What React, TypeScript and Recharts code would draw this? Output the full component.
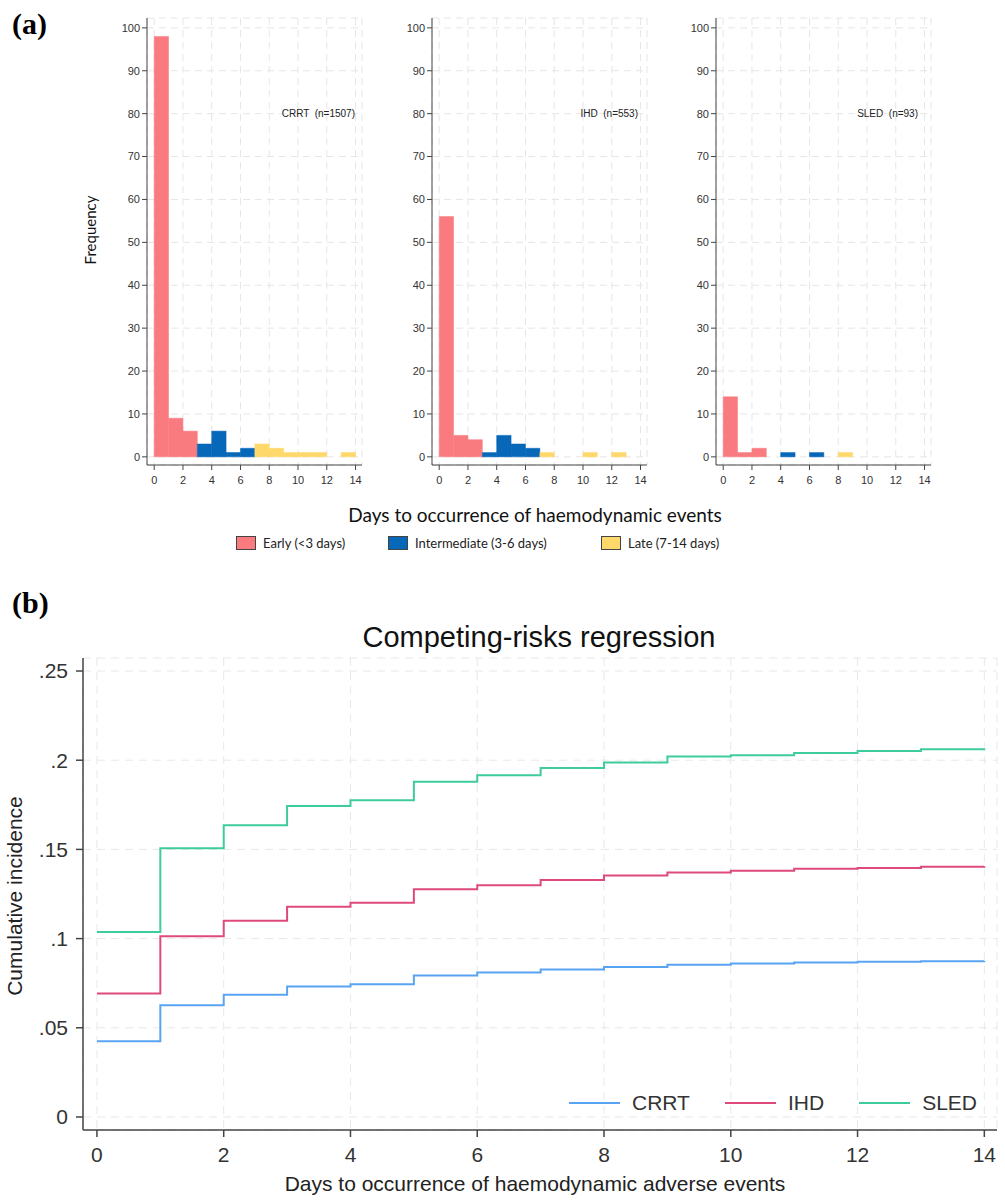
import {
  Bar,
  BarChart,
  CartesianGrid,
  Cell,
  Legend,
  Line,
  LineChart,
  XAxis,
  YAxis,
} from "recharts";

// ---- panel (a): histograms of days to event, one per modality ----
const BIN_START = [0, 1, 2, 3, 4, 5, 6, 7, 8, 9, 10, 11, 12, 13];
const BIN_GROUP = [
  "early", "early", "early",
  "intermediate", "intermediate", "intermediate", "intermediate",
  "late", "late", "late", "late", "late", "late", "late",
];
const CRRT_FREQ = [98, 9, 6, 3, 6, 1, 2, 3, 2, 1, 1, 1, 0, 1];
const IHD_FREQ = [56, 5, 4, 1, 5, 3, 2, 1, 0, 0, 1, 0, 1, 0];
const SLED_FREQ = [14, 1, 2, 0, 1, 0, 1, 0, 1, 0, 0, 0, 0, 0];
const HIST_NAMES = ["CRRT", "IHD", "SLED"];
const HIST_N = [1507, 553, 93];
const HIST_DAY_TICKS = [0, 2, 4, 6, 8, 10, 12, 14];
const FREQ_TICKS = [0, 10, 20, 30, 40, 50, 60, 70, 80, 90, 100];

const GROUP_LABELS = ["Early (<3 days)", "Intermediate (3-6 days)", "Late (7-14 days)"];
const GROUP_KEYS = ["early", "intermediate", "late"];
const GROUP_COLORS: Record<string, string> = {
  early: "#f97b80",
  intermediate: "#0767b9",
  late: "#fed86a",
};

// ---- panel (b): competing-risks cumulative incidence ----
const DAYS = [0, 1, 2, 3, 4, 5, 6, 7, 8, 9, 10, 11, 12, 13, 14];
const CRRT_CIF = [0.0425, 0.0627, 0.0685, 0.0731, 0.0744, 0.0793, 0.081, 0.0827, 0.0841, 0.0854, 0.086, 0.0866, 0.087, 0.0873, 0.0875];
const IHD_CIF = [0.0692, 0.1013, 0.11, 0.1179, 0.1201, 0.1276, 0.1299, 0.1328, 0.1354, 0.1371, 0.138, 0.1392, 0.1396, 0.1403, 0.1405];
const SLED_CIF = [0.1037, 0.1506, 0.1636, 0.1743, 0.1776, 0.1879, 0.1916, 0.1957, 0.1987, 0.2021, 0.2028, 0.2041, 0.2052, 0.2062, 0.2065];
const CIF_TICKS = [0, 0.05, 0.1, 0.15, 0.2, 0.25];
const CIF_DAY_TICKS = [0, 2, 4, 6, 8, 10, 12, 14];
const SERIES = [
  { key: "CRRT", color: "#58a4f3" },
  { key: "IHD", color: "#df4a7c" },
  { key: "SLED", color: "#3fcc9b" },
];

const HIST_PLOT_LEFT = [147, 432, 716];
const HIST_LABEL_RIGHT = [355, 638, 918];
const HIST_PLOT_W = 215;
const HIST_DOMAIN: [number, number] = [-0.5, 14.45];
// just under one day's width, so recharts keeps it instead of shrinking to 90%
const HIST_BAR_PX = HIST_PLOT_W / (HIST_DOMAIN[1] - HIST_DOMAIN[0]) - 0.01;

const SANS = '"Liberation Sans", Arial, sans-serif';
const CALIBRI_ISH = 'Lato, "Open Sans", sans-serif';
const SERIF = '"Liberation Serif", "Times New Roman", serif';

function Histogram({ freq, left }: { freq: number[]; left: number }) {
  const rows = BIN_START.map((start, i) => ({
    day: start + 0.5,
    freq: freq[i],
    group: BIN_GROUP[i],
  }));
  return (
    <div style={{ position: "absolute", left: left - 47, top: 0 }}>
      <BarChart
        width={270}
        height={490}
        data={rows}
        margin={{ top: 18, right: 8, bottom: 0, left: 17 }}
        barCategoryGap={0}
        barGap={0}
      >
        <CartesianGrid stroke="#e6e6e6" strokeDasharray="7 5" />
        <XAxis
          type="number"
          dataKey="day"
          domain={HIST_DOMAIN}
          allowDataOverflow
          ticks={HIST_DAY_TICKS}
          interval={0}
          height={25}
          tickSize={5}
          tickMargin={6}
          stroke="#444"
          tick={{ fill: "#333", fontSize: 11, fontFamily: SANS }}
        />
        <YAxis
          type="number"
          domain={[-1.9, 102.3]}
          allowDataOverflow
          ticks={FREQ_TICKS}
          interval={0}
          width={30}
          tickSize={5}
          tickMargin={2}
          stroke="#444"
          tick={{ fill: "#333", fontSize: 11, fontFamily: SANS }}
        />
        <Bar dataKey="freq" barSize={HIST_BAR_PX} isAnimationActive={false}>
          {rows.map((r, i) => (
            <Cell key={i} fill={GROUP_COLORS[r.group]} stroke={GROUP_COLORS[r.group]} strokeWidth={0.5} />
          ))}
        </Bar>
      </BarChart>
    </div>
  );
}

function CifLegend() {
  return (
    <div style={{ display: "flex", alignItems: "center", fontFamily: SANS, fontSize: 21, color: "#333", lineHeight: "24px" }}>
      {SERIES.map((s, i) => (
        <div key={s.key} style={{ display: "flex", alignItems: "center", marginRight: i < SERIES.length - 1 ? 35 : 0 }}>
          <span style={{ display: "inline-block", width: 51, height: 2, background: s.color, marginRight: 12 }} />
          <span>{s.key}</span>
        </div>
      ))}
    </div>
  );
}

export default function App() {
  const cifRows = DAYS.map((d, i) => ({
    day: d,
    CRRT: CRRT_CIF[i],
    IHD: IHD_CIF[i],
    SLED: SLED_CIF[i],
  }));
  const hists = [CRRT_FREQ, IHD_FREQ, SLED_FREQ];

  return (
    <div
      style={{
        position: "absolute",
        left: 0,
        top: 0,
        width: 1005,
        height: 1203,
        background: "#fff",
        fontFamily: SANS,
        overflow: "hidden",
      }}
    >
      <div style={{ position: "absolute", left: 12, top: 7, fontFamily: SERIF, fontWeight: "bold", fontSize: 30 }}>
        (a)
      </div>
      <div style={{ position: "absolute", left: 12, top: 586, fontFamily: SERIF, fontWeight: "bold", fontSize: 30 }}>
        (b)
      </div>

      {hists.map((f, i) => (
        <Histogram key={HIST_NAMES[i]} freq={f} left={HIST_PLOT_LEFT[i]} />
      ))}
      {HIST_NAMES.map((name, i) => (
        <div
          key={name}
          style={{
            position: "absolute",
            right: 1005 - HIST_LABEL_RIGHT[i],
            top: 108,
            fontSize: 10,
            lineHeight: "12px",
            color: "#222",
            whiteSpace: "pre",
          }}
        >
          {`${name}  (n=${HIST_N[i]})`}
        </div>
      ))}
      <div
        style={{
          position: "absolute",
          left: 90,
          top: 230,
          transform: "translate(-50%, -50%) rotate(-90deg)",
          fontFamily: CALIBRI_ISH,
          fontSize: 15,
          color: "#111",
          whiteSpace: "nowrap",
        }}
      >
        Frequency
      </div>
      <div
        style={{
          position: "absolute",
          left: 535,
          top: 514,
          transform: "translate(-50%, -50%)",
          fontFamily: CALIBRI_ISH,
          fontSize: 19,
          color: "#111",
          whiteSpace: "nowrap",
        }}
      >
        Days to occurrence of haemodynamic events
      </div>
      {GROUP_KEYS.map((g, i) => (
        <div
          key={g}
          style={{
            position: "absolute",
            left: [236, 388, 601][i],
            top: 535,
            display: "flex",
            alignItems: "center",
            fontFamily: CALIBRI_ISH,
            fontSize: 13,
            color: "#222",
            whiteSpace: "nowrap",
          }}
        >
          <span style={{ display: "inline-block", width: 18, height: 12, background: GROUP_COLORS[g], border: "1px solid #444", marginRight: 7 }} />
          {GROUP_LABELS[i]}
        </div>
      ))}

      <div
        style={{
          position: "absolute",
          left: 539,
          top: 637,
          transform: "translate(-50%, -50%)",
          fontSize: 29,
          color: "#111",
          whiteSpace: "nowrap",
        }}
      >
        Competing-risks regression
      </div>
      <div style={{ position: "absolute", left: 0, top: 650 }}>
        <LineChart
          width={1005}
          height={553}
          data={cifRows}
          margin={{ top: 8, right: 8, bottom: 33, left: 23 }}
        >
          <CartesianGrid stroke="#e8e8e8" strokeDasharray="8 6" />
          <XAxis
            type="number"
            dataKey="day"
            domain={[-0.22, 14.2]}
            allowDataOverflow
            ticks={CIF_DAY_TICKS}
            interval={0}
            height={40}
            tickSize={7}
            tickMargin={10}
            stroke="#444"
            strokeWidth={1.5}
            tick={{ fill: "#333", fontSize: 21, fontFamily: SANS }}
          />
          <YAxis
            type="number"
            domain={[-0.0073, 0.2573]}
            allowDataOverflow
            ticks={CIF_TICKS}
            interval={0}
            width={60}
            tickSize={7}
            tickMargin={8}
            stroke="#444"
            strokeWidth={1.5}
            tickFormatter={(v: number) => (v === 0 ? "0" : String(v).replace(/^0/, ""))}
            tick={{ fill: "#333", fontSize: 21, fontFamily: SANS }}
          />
          <Legend
            layout="horizontal"
            verticalAlign="middle"
            align="center"
            content={() => <CifLegend />}
            wrapperStyle={{ position: "absolute", left: 569, top: 441, width: "auto", height: 24 }}
          />
          {SERIES.map((s) => (
            <Line
              key={s.key}
              type="stepAfter"
              dataKey={s.key}
              stroke={s.color}
              strokeWidth={2}
              dot={false}
              activeDot={false}
              isAnimationActive={false}
            />
          ))}
        </LineChart>
      </div>
      <div
        style={{
          position: "absolute",
          left: 15,
          top: 896,
          transform: "translate(-50%, -50%) rotate(-90deg)",
          fontSize: 21,
          color: "#222",
          whiteSpace: "nowrap",
        }}
      >
        Cumulative incidence
      </div>
      <div
        style={{
          position: "absolute",
          left: 535,
          top: 1184,
          transform: "translate(-50%, -50%)",
          fontSize: 21,
          color: "#222",
          whiteSpace: "nowrap",
        }}
      >
        Days to occurrence of haemodynamic adverse events
      </div>
    </div>
  );
}
